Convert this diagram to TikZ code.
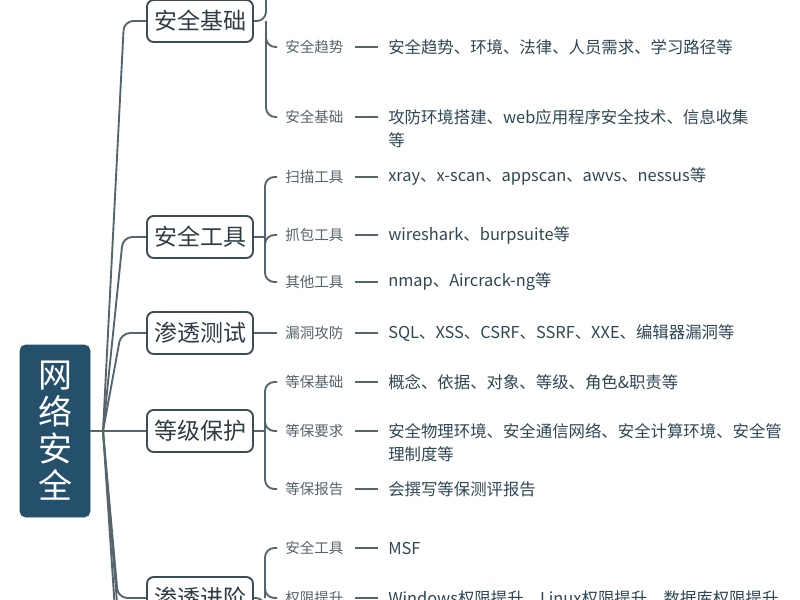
\documentclass[tikz,border=0pt]{standalone}
\usepackage{fontspec}
\setmainfont{Noto Sans CJK SC}
\definecolor{centerfill}{HTML}{25506B}
\definecolor{boxline}{HTML}{3E4C55}
\definecolor{linec}{HTML}{56646C}
\definecolor{labc}{HTML}{56646C}
\definecolor{detc}{HTML}{2F4754}
\definecolor{boxtext}{HTML}{2F3C45}
\begin{document}
\begin{tikzpicture}[x=0.75pt,y=-0.75pt,
 centerbox/.style={fill=centerfill, draw=centerfill, rounded corners=4pt, minimum width=52.5pt, minimum height=129pt, text=white, align=center, font=\fontsize{25.5pt}{27.75pt}\selectfont, inner sep=0pt},
 topicbox/.style={draw=boxline, line width=1.4pt, rounded corners=5pt, fill=white, minimum width=79.5pt, minimum height=31.5pt, inner sep=0pt, text=boxtext, font=\fontsize{17.25pt}{20pt}\selectfont},
 sublabel/.style={anchor=west, inner sep=0pt, text=labc, font=\fontsize{10.9pt}{13pt}\selectfont},
 detail/.style={anchor=west, inner sep=0pt, text=detc, font=\fontsize{12.3pt}{17.25pt}\selectfont, align=left},
 detailtwo/.style={detail, anchor=north west},
 conn/.style={draw=linec, line width=1.4pt, rounded corners=7pt},
 dashline/.style={draw=linec, line width=1.2pt},
]
\useasboundingbox (0,0) rectangle (800,600);
\fill[white] (0,0) rectangle (800,600);
\clip (0,0) rectangle (800,600);

% center
\node[centerbox] (c) at (55,431) {网\\络\\安\\全};
\coordinate (hub) at (103,431);

% level-1 topics
\node[topicbox] (b1) at (200,21) {安全基础};
\node[topicbox] (b2) at (200,237) {安全工具};
\node[topicbox] (b3) at (200,333) {渗透测试};
\node[topicbox] (b4) at (200,431) {等级保护};
\node[topicbox] (b5) at (200,598) {渗透进阶};

% corners & off-image ends
\coordinate (k1) at (124,21);
\coordinate (k2) at (123,237);
\coordinate (k3) at (121,333);
\coordinate (k5) at (118,598);
\coordinate (o1) at (121,700);
\coordinate (o2) at (125,700);

\draw[conn] (c.east) -- (hub) -- (b4.west);
\draw[conn] (hub) -- (k1) -- (b1.west);
\draw[conn] (hub) -- (k2) -- (b2.west);
\draw[conn] (hub) -- (k3) -- (b3.west);
\draw[conn] (hub) -- (k5) -- (b5.west);
\draw[conn] (hub) -- (o1);
\draw[conn] (hub) -- (o2);

% sub labels
\node[sublabel] (l12) at (285,47) {安全趋势};
\node[sublabel] (l13) at (285,117) {安全基础};
\node[sublabel] (l21) at (285,177) {扫描工具};
\node[sublabel] (l22) at (285,235) {抓包工具};
\node[sublabel] (l23) at (285,282) {其他工具};
\node[sublabel] (l31) at (285,333) {漏洞攻防};
\node[sublabel] (l41) at (285,382) {等保基础};
\node[sublabel] (l42) at (285,431) {等保要求};
\node[sublabel] (l43) at (285,489) {等保报告};
\node[sublabel] (l51) at (285,548) {安全工具};
\node[sublabel] (l52) at (285,598) {权限提升};

% details
\node[detail] (d12) at (388,47) {安全趋势、环境、法律、人员需求、学习路径等};
\node[detailtwo] (d13) at (388,109) {攻防环境搭建、web应用程序安全技术、信息收集\\等};
\node[detail] (d21) at (388,176) {xray、x-scan、appscan、awvs、nessus等};
\node[detail] (d22) at (388,235) {wireshark、burpsuite等};
\node[detail] (d23) at (388,282) {nmap、Aircrack-ng等};
\node[detail] (d31) at (388,333) {SQL、XSS、CSRF、SSRF、XXE、编辑器漏洞等};
\node[detail] (d41) at (388,382) {概念、依据、对象、等级、角色\&职责等};
\node[detailtwo] (d42) at (388,423) {安全物理环境、安全通信网络、安全计算环境、安全管\\理制度等};
\node[detail] (d43) at (388,489) {会撰写等保测评报告};
\node[detail] (d51) at (388,548) {MSF};
\node[detail] (d52) at (388,598) {Windows权限提升、Linux权限提升、数据库权限提升};

% brackets
\coordinate (j1) at (266,21);
\coordinate (j2) at (265,237);
\coordinate (j3) at (265,333);
\coordinate (j4) at (265,431);
\coordinate (j5) at (265,598);
\coordinate (u1) at (266,-40);
\coordinate (u5) at (265,660);

\draw[conn] (b1.east) -- (j1) -- (u1);
\draw[conn] (j1) |- ([xshift=-6pt]l12.west);
\draw[conn] (j1) |- ([xshift=-6pt]l13.west);

\draw[conn] (b2.east) -- (j2);
\draw[conn] (j2) |- ([xshift=-6pt]l21.west);
\draw[conn] (j2) |- ([xshift=-6pt]l22.west);
\draw[conn] (j2) |- ([xshift=-6pt]l23.west);

\draw[conn] (b3.east) -- ([xshift=-6pt]l31.west);

\draw[conn] (b4.east) -- (j4);
\draw[conn] (j4) |- ([xshift=-6pt]l41.west);
\draw[conn] (j4) |- ([xshift=-6pt]l42.west);
\draw[conn] (j4) |- ([xshift=-6pt]l43.west);

\draw[conn] (b5.east) -- (j5) -- (u5);
\draw[conn] (j5) |- ([xshift=-6pt]l51.west);
\draw[conn] (j5) |- ([xshift=-6pt]l52.west);

% dashes
\foreach \l/\d in {l12/d12,l13/d13,l21/d21,l22/d22,l23/d23,l31/d31,l41/d41,l42/d42,l43/d43,l51/d51,l52/d52}{
  \draw[dashline] ([xshift=8.5pt]\l.east) -- ([xshift=-7.5pt]\d.west |- \l.east);
}
\end{tikzpicture}
\end{document}
